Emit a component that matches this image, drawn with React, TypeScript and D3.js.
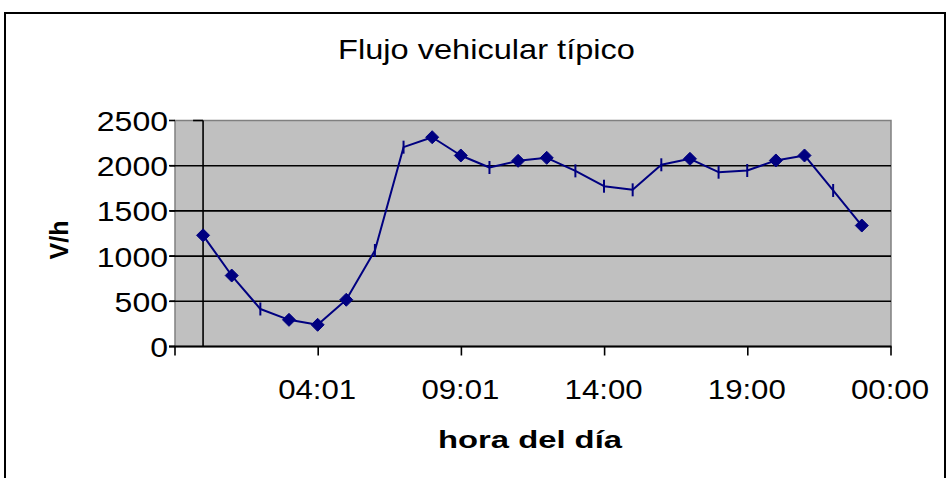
import React from "react";
import * as d3 from "d3";

const hours = [0, 1, 2, 3, 4, 5, 6, 7, 8, 9, 10, 11, 12, 13, 14, 15, 16, 17, 18, 19, 20, 21, 22, 23];
const flow = [1230, 785, 415, 295, 240, 517, 1062, 2205, 2315, 2113, 1980, 2054, 2087, 1943, 1773, 1733, 2010, 2076, 1928, 1947, 2058, 2113, 1726, 1338];
const markerKinds = ["diamond", "diamond", "dash", "diamond", "diamond", "diamond", "dash", "dash", "diamond", "diamond", "dash", "diamond", "diamond", "dash", "dash", "dash", "dash", "diamond", "dash", "dash", "diamond", "diamond", "dash", "diamond"];
const xTickValues = [-0.98, 4.02, 9.02, 14.02, 19.02, 24.02];
const xTickLabels = ["", "04:01", "09:01", "14:00", "19:00", "00:00"];
const yTickValues = [0, 500, 1000, 1500, 2000, 2500];
const title = "Flujo vehicular típico";
const xTitle = "hora del día";
const yTitle = "V/h";

const W = 949;
const H = 478;
const FONT = "'Liberation Sans', Arial, Helvetica, sans-serif";

export default function App() {
  const x = d3.scaleLinear().domain([-0.98, 24.02]).range([175, 891]);
  const y = d3.scaleLinear().domain([0, 2500]).range([346.5, 120.5]);
  const line = d3
    .line<number>()
    .x((_, i) => x(hours[i]))
    .y((d) => y(d));
  const navy = "#000080";
  const axisX = x(0);

  return (
    <svg
      width={W}
      height={H}
      style={{ position: "absolute", left: 0, top: 0, background: "#fff" }}
    >
      <rect x={5} y={13} width={940} height={480} fill="#fff" stroke="#000" strokeWidth={2} />

      <text
        x={338}
        y={59}
        fontFamily={FONT}
        fontSize={28}
        textLength={297}
        lengthAdjust="spacingAndGlyphs"
        fill="#000"
      >
        {title}
      </text>

      <rect
        x={x.range()[0]}
        y={y.range()[1]}
        width={x.range()[1] - x.range()[0]}
        height={y.range()[0] - y.range()[1]}
        fill="#C0C0C0"
        stroke="#808080"
        strokeWidth={1.5}
      />

      {yTickValues.slice(1, -1).map((v) => (
        <line key={"g" + v} x1={170} x2={x.range()[1]} y1={y(v)} y2={y(v)} stroke="#000" strokeWidth={1.6} />
      ))}
      {yTickValues.map((v) => (
        <line key={"lt" + v} x1={169} x2={175} y1={y(v)} y2={y(v)} stroke="#000" strokeWidth={1.6} />
      ))}

      <line x1={axisX} x2={axisX} y1={y(2500)} y2={y(0)} stroke="#000" strokeWidth={1.6} />
      <line x1={axisX - 10} x2={axisX} y1={y(2500)} y2={y(2500)} stroke="#000" strokeWidth={1.6} />

      <line x1={169} x2={x.range()[1] + 0.5} y1={y(0)} y2={y(0)} stroke="#000" strokeWidth={2} />
      {xTickValues.map((v) => (
        <line key={"xt" + v} x1={x(v)} x2={x(v)} y1={y(0)} y2={y(0) + 9} stroke="#000" strokeWidth={1.6} />
      ))}

      {yTickValues.map((v) => {
        const s = String(v);
        const len = s.length * 17.8;
        return (
          <text
            key={"yl" + v}
            x={168 - len}
            y={y(v) + 10.5}
            fontFamily={FONT}
            fontSize={27}
            textLength={len}
            lengthAdjust="spacingAndGlyphs"
            fill="#000"
          >
            {s}
          </text>
        );
      })}

      {xTickValues.map((v, i) =>
        xTickLabels[i] ? (
          <text
            key={"xl" + v}
            x={x(v) - 1 - 39}
            y={399}
            fontFamily={FONT}
            fontSize={27}
            textLength={78}
            lengthAdjust="spacingAndGlyphs"
            fill="#000"
          >
            {xTickLabels[i]}
          </text>
        ) : null
      )}

      <text
        x={438}
        y={448}
        fontFamily={FONT}
        fontSize={24}
        fontWeight="bold"
        textLength={184}
        lengthAdjust="spacingAndGlyphs"
        fill="#000"
      >
        {xTitle}
      </text>
      <text
        transform="translate(68,240) rotate(-90)"
        textAnchor="middle"
        fontFamily={FONT}
        fontSize={25}
        fontWeight="bold"
        fill="#000"
      >
        {yTitle}
      </text>

      <path d={line(flow) || ""} fill="none" stroke={navy} strokeWidth={2} strokeLinejoin="round" />

      {flow.map((v, i) => {
        const cx = x(hours[i]);
        const cy = y(v);
        if (markerKinds[i] === "diamond") {
          const r = 6.5;
          return (
            <path
              key={"m" + i}
              d={`M${cx},${cy - r}L${cx + r},${cy}L${cx},${cy + r}L${cx - r},${cy}Z`}
              fill={navy}
              stroke={navy}
              strokeWidth={1}
            />
          );
        }
        return (
          <line key={"m" + i} x1={cx} x2={cx} y1={cy - 6.5} y2={cy + 6.5} stroke={navy} strokeWidth={2} />
        );
      })}
    </svg>
  );
}
